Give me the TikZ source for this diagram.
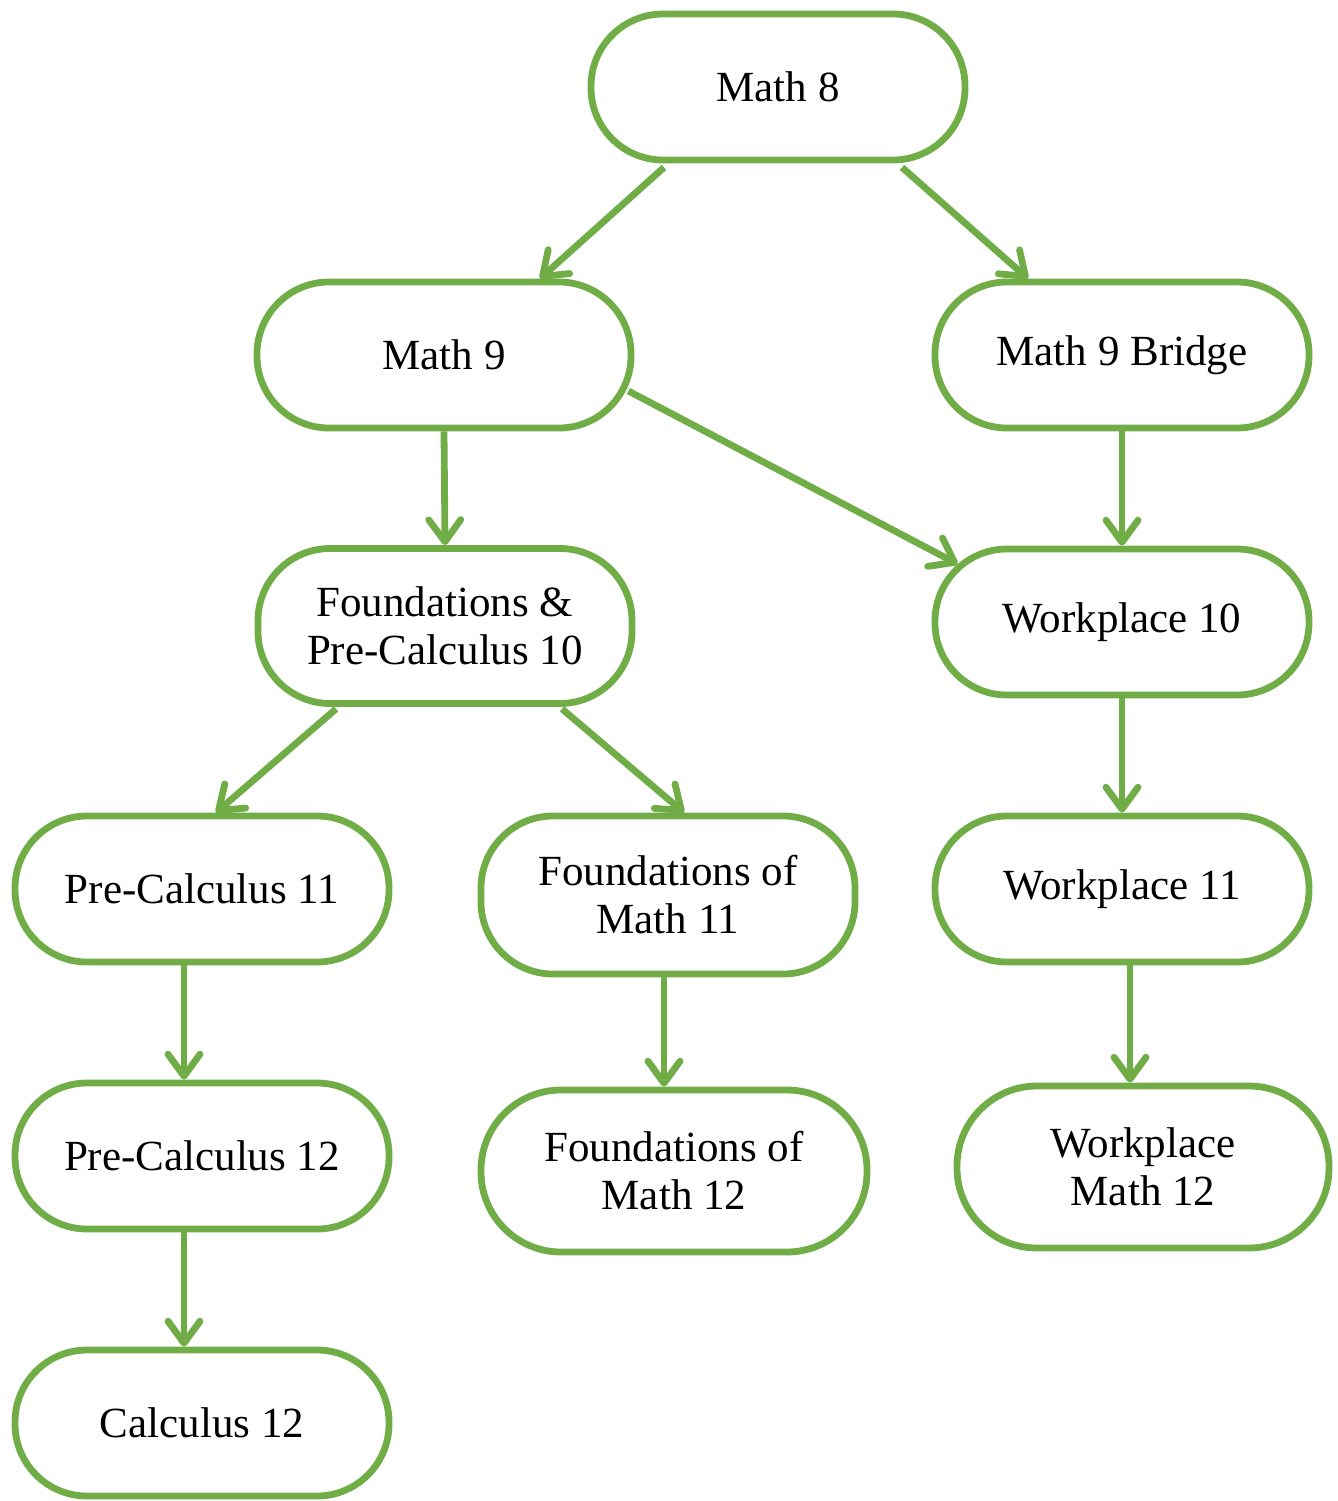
\documentclass[tikz,border=0pt]{standalone}
\usepackage{fontspec}
\setmainfont{Liberation Serif}
\usetikzlibrary{arrows.meta}
\definecolor{leaf}{HTML}{70AD47}
\tikzset{
  course/.style={draw=leaf, line width=3.4pt, rounded corners=36pt, align=center,
    minimum width=187pt, minimum height=73pt, inner sep=0pt,
    font=\fontsize{21.5pt}{24pt}\selectfont},
  link/.style={->, draw=leaf, line width=3.4pt}
}
\begin{document}
\begin{tikzpicture}[x=0.5pt, y=-0.5pt, >={Straight Barb[length=11pt,width=16pt,round]}]
\useasboundingbox (0,0) rectangle (1338,1501);

% courses
\node[course] (m8) at (778,87) {Math 8};
\node[course] (m9) at (444,355) {Math 9};
\node[course] (bridge) at (1122,355) {Math 9 Bridge};
\node[course, minimum height=77.5pt] (f10) at (445,626) {Foundations \&\\Pre-Calculus 10};
\node[course] (w10) at (1122,622) {Workplace 10};
\node[course] (pc11) at (202,889) {Pre-Calculus 11};
\node[course, minimum height=79pt] (fm11) at (668,895) {Foundations of\\Math 11};
\node[course] (w11) at (1122,889) {Workplace 11};
\node[course] (pc12) at (202,1156) {Pre-Calculus 12};
\node[course, minimum width=193pt, minimum height=81pt, rounded corners=40pt] (fm12) at (674,1171) {Foundations of\\Math 12};
\node[course, minimum width=186pt, minimum height=81pt, rounded corners=40pt] (wm12) at (1143,1167) {Workplace\\Math 12};
\node[course] (calc) at (202,1423) {Calculus 12};

% arrows
\draw[link] ([xshift=-57pt,yshift=-2pt]m8.south) -- ([xshift=48pt]m9.north);
\draw[link] ([xshift=62pt,yshift=-2pt]m8.south) -- ([xshift=-47pt]bridge.north);
\draw[link] (m9.south) -- (f10.north);
\draw[link] ([xshift=-3pt,yshift=-18pt]m9.east) -- ([xshift=13pt,yshift=29pt]w10.west);
\draw[link] (bridge.south) -- (w10.north);
\draw[link] ([xshift=-54.5pt,yshift=-1pt]f10.south) -- ([xshift=7pt]pc11.north);
\draw[link] ([xshift=58.5pt,yshift=-1pt]f10.south) -- ([xshift=8pt]fm11.north);
\draw[link] (w10.south) -- (w11.north);
\draw[link] ([xshift=-9pt]pc11.south) -- ([xshift=-9pt]pc12.north);
\draw[link] ([xshift=-2pt]fm11.south) -- ([xshift=-5pt]fm12.north);
\draw[link] ([xshift=4pt]w11.south) -- ([xshift=-6.5pt]wm12.north);
\draw[link] ([xshift=-9pt]pc12.south) -- ([xshift=-9pt]calc.north);

\end{tikzpicture}
\end{document}
